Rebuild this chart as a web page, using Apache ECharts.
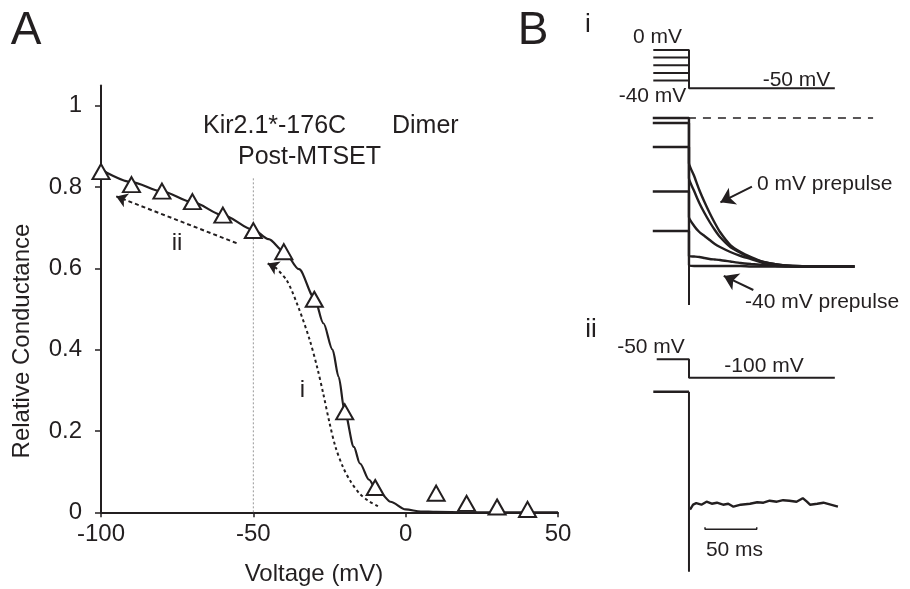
<!DOCTYPE html>
<html>
<head>
<meta charset="utf-8">
<script src="https://cdn.jsdelivr.net/npm/echarts@6/dist/echarts.min.js"></script>
<style>
  html, body { margin: 0; padding: 0; background: #fff; }
  #chart { width: 910px; height: 589px; }
</style>
</head>
<body>
<div id="chart"></div>
<script>
// ---- Panel A: G-V data ----
const voltages = [-100, -90, -80, -70, -60, -50, -40, -30, -20, -10, 10, 20, 30, 40];
const conductance = [0.838, 0.806, 0.79, 0.764, 0.731, 0.693, 0.641, 0.524, 0.247, 0.061, 0.047, 0.022, 0.013, 0.007];
// fitted curve (solid)
const fitV = [-100, -90, -80, -70, -60, -50, -45, -40, -35, -30, -27, -24, -22, -20, -17, -15, -12, -10, -8, -5, 0, 5, 10, 20, 50];
const fitG = [0.843, 0.812, 0.789, 0.763, 0.731, 0.695, 0.672, 0.642, 0.598, 0.528, 0.465, 0.40, 0.333, 0.247, 0.161, 0.12, 0.08, 0.06, 0.045, 0.026, 0.007, 0.002, 0.001, 0, 0];
// dotted path i
const pathIV = [-9.1, -12, -15, -18, -20.5, -23, -25, -27, -29, -31.5, -35, -39, -43];
const pathIG = [0.015, 0.027, 0.045, 0.075, 0.11, 0.16, 0.22, 0.29, 0.355, 0.424, 0.5, 0.57, 0.604];
// dashed path ii
const pathIIV = [-55.5, -95];
const pathIIG = [0.662, 0.777];
const yTicks = [0, 0.2, 0.4, 0.6, 0.8, 1];

// ---- Panel B i: protocol (mV) and currents ----
const prepulses = [0, -10, -20, -30, -40];
const testPotential = -50;
const protoStart = -34.5, protoEnd = 141;
const preLevels = [0, -5, -29, -73.5, -113];
const postTime = [0, 5, 10, 15, 20, 25, 30, 40, 50, 60, 72, 85, 100, 120, 140, 160];
const postCurrents = [
  [-45, -58, -72, -84, -95, -105, -114, -127, -134, -139, -144, -146.5, -148, -148.5, -148.5, -148.5],
  [-60, -73, -85, -95, -104, -112, -119, -129, -135, -140, -144, -146.5, -148, -148.5, -148.5, -148.5],
  [-99, -108, -114, -118, -122, -126, -129, -134, -138, -141, -145, -147, -148, -148.5, -148.5, -148.5],
  [-138, -138.5, -139, -140, -141, -141.5, -142, -143.5, -145, -146, -147, -148, -148.5, -148.5, -148.5, -148.5],
  [-147, -148, -148, -148, -148, -148, -148, -148, -148, -148.5, -148.5, -148.5, -148.5, -148.5, -148.5, -148.5]
];
const transientI = -187;

// ---- Panel B ii ----
const holdII = -50, stepII = -100;
const traceIITime = [1, 4, 7, 12, 17, 22, 27, 33, 38, 43, 50, 59, 66, 72, 78, 85, 91, 97, 104, 110, 114, 117, 124, 130, 137, 144];
const traceIICurrent = [-118, -113, -111.5, -113, -110, -112, -111, -113, -112, -115, -113, -112, -110.5, -111, -109, -110, -108.5, -109, -110, -106.5, -110, -113, -112, -111, -113, -115];
const transientII = -180;
const scaleBar = [15.5, 65.5]; // 50 ms

const ink = '#231f20';
const font = '"Liberation Sans", Arial, sans-serif';

const chart = echarts.init(document.getElementById('chart'));

// time axis for panel B (ms), shared layout
const bLeft = 647.6, bRight = 24.5;
function hiddenX(grid) {
  return { gridIndex: grid, type: 'value', min: -40, max: 190, show: false };
}
function hiddenY(grid, min, max) {
  return { gridIndex: grid, type: 'value', min: min, max: max, show: false };
}
function text(t, x, y, size, align, rot) {
  return {
    type: 'text', x: x, y: y, rotation: rot || 0,
    style: {
      text: t, font: size + 'px ' + font, fill: ink,
      textAlign: align || 'center', align: align || 'center',
      textVerticalAlign: 'middle', verticalAlign: 'middle'
    }
  };
}
function seg(points, grid, opts) {
  return Object.assign({
    type: 'line', xAxisIndex: grid, yAxisIndex: grid, data: points,
    showSymbol: false, symbol: 'none', silent: true,
    lineStyle: { color: ink, width: 2 }
  }, opts || {});
}

const series = [];

// panel A
series.push(seg([[-50, 0], [-50, 0.822]], 0, { lineStyle: { color: '#999', width: 1, type: [2, 2] } }));
series.push(seg(fitV.map((v, i) => [v, fitG[i]]), 0, { smooth: 0.3, smoothMonotone: 'x', lineStyle: { color: ink, width: 2.2 } }));
series.push(seg(pathIV.map((v, i) => [v, pathIG[i]]), 0, { smooth: 0.3, lineStyle: { color: ink, width: 2, type: [3, 3] } }));
series.push({
  type: 'lines', coordinateSystem: 'cartesian2d', xAxisIndex: 0, yAxisIndex: 0, silent: true,
  symbol: ['none', 'arrow'], symbolSize: 11,
  lineStyle: { color: ink, width: 2, type: [4, 3], opacity: 1 },
  data: [{ coords: pathIIV.map((v, i) => [v, pathIIG[i]]) }]
});
series.push({
  type: 'lines', coordinateSystem: 'cartesian2d', xAxisIndex: 0, yAxisIndex: 0, silent: true,
  symbol: ['none', 'arrow'], symbolSize: 11,
  lineStyle: { color: ink, width: 2, opacity: 1 },
  data: [{ coords: [[-43, 0.604], [-45.3, 0.612]] }]
});
series.push({
  type: 'scatter', xAxisIndex: 0, yAxisIndex: 0, z: 5, silent: true,
  symbol: 'triangle', symbolSize: [17, 15],
  itemStyle: { color: '#fff', borderColor: ink, borderWidth: 2, opacity: 1 },
  data: voltages.map((v, i) => [v, conductance[i]])
});

// panel B i protocol (grid 1)
prepulses.forEach((p, i) => {
  const pts = [[protoStart, p], [0, p]];
  if (i === 0) pts.push([0, testPotential], [protoEnd, testPotential]);
  series.push(seg(pts, 1));
});
// panel B i currents (grid 2)
series.push(seg([[-1, 0], [178, 0]], 2, { lineStyle: { color: ink, width: 1.5, type: [8, 7] } }));
series.push(seg([[0, 0], [0, transientI]], 2));
preLevels.forEach((lv, k) => {
  const pts = [[-35, lv], [0, lv]].concat(postTime.map((t, i) => [t, postCurrents[k][i]]));
  series.push(seg(pts, 2, { smooth: 0.2, lineStyle: { color: ink, width: 2.4 } }));
});
series.push({
  type: 'lines', coordinateSystem: 'cartesian2d', xAxisIndex: 2, yAxisIndex: 2, silent: true,
  symbol: ['none', 'arrow'], symbolSize: 14,
  lineStyle: { color: ink, width: 2, opacity: 1 },
  data: [
    { coords: [[60.9, -68.7], [30.4, -84.3]] },
    { coords: [[62.2, -172], [33.6, -157.9]] }
  ]
});

// panel B ii protocol (grid 3)
series.push(seg([[-31.2, holdII], [0, holdII], [0, stepII], [protoEnd, stepII]], 3));
// panel B ii current (grid 4)
series.push(seg([[-34.5, 0], [0, 0]], 4, { lineStyle: { color: ink, width: 2.4 } }));
series.push(seg([[0, 0], [0, transientII]], 4));
series.push(seg(traceIITime.map((t, i) => [t, traceIICurrent[i]]), 4, { lineStyle: { color: ink, width: 2.4 } }));
series.push(seg([[scaleBar[0], -135.5], [scaleBar[0], -137.6], [scaleBar[1], -137.6], [scaleBar[1], -135.5]], 4, { lineStyle: { color: ink, width: 1.5 } }));

const option = {
  animation: false,
  backgroundColor: '#fff',
  grid: [
    { left: 101, right: 352, top: 85.4, bottom: 76.7 },
    { left: bLeft, right: bRight, top: 42.3, height: 53.6 },
    { left: bLeft, right: bRight, top: 108, height: 200 },
    { left: bLeft, right: bRight, top: 355.6, height: 25.7 },
    { left: bLeft, right: bRight, top: 386.7, height: 190 }
  ],
  xAxis: [
    {
      gridIndex: 0, type: 'value', min: -100, max: 50, interval: 50,
      axisLine: { onZero: false, lineStyle: { color: ink, width: 2 } },
      axisTick: { length: 5, lineStyle: { color: ink, width: 1.5 } },
      axisLabel: { color: ink, fontSize: 24, fontFamily: font, margin: 10 },
      splitLine: { show: false }
    },
    hiddenX(1), hiddenX(2), hiddenX(3), hiddenX(4)
  ],
  yAxis: [
    {
      gridIndex: 0, type: 'value', min: 0, max: 1.05,
      axisLine: { show: true, onZero: false, lineStyle: { color: ink, width: 2 } },
      axisTick: { show: true, length: 6, customValues: yTicks, lineStyle: { color: ink, width: 1.5 } },
      axisLabel: { color: ink, fontSize: 24, fontFamily: font, margin: 19, customValues: yTicks },
      splitLine: { show: false }
    },
    hiddenY(1, -60, 10), hiddenY(2, -190, 10), hiddenY(3, -110, -40), hiddenY(4, -185, 5)
  ],
  graphic: [
    text('A', 26, 31, 46),
    text('B', 533, 31, 46),
    text('i', 588, 25, 26),
    text('ii', 591, 330, 26),
    text('Kir2.1*-176C', 203, 126, 25, 'left'),
    text('Dimer', 392, 126, 25, 'left'),
    text('Post-MTSET', 238, 157.5, 25, 'left'),
    text('ii', 177, 243, 24),
    text('i', 302.5, 390, 24),
    text('Relative Conductance', 22, 341, 24, 'center', Math.PI / 2),
    text('Voltage (mV)', 314, 574, 24),
    text('0 mV', 657.5, 37.5, 21),
    text('-40 mV', 652.5, 96, 21),
    text('-50 mV', 796.5, 80, 21),
    text('0 mV prepulse', 757, 184, 21, 'left'),
    text('-40 mV prepulse', 745, 302.7, 21, 'left'),
    text('-50 mV', 651, 347.5, 21),
    text('-100 mV', 764, 366, 21),
    text('50 ms', 734.5, 550, 21)
  ],
  series: series
};
chart.setOption(option);
</script>
</body>
</html>
